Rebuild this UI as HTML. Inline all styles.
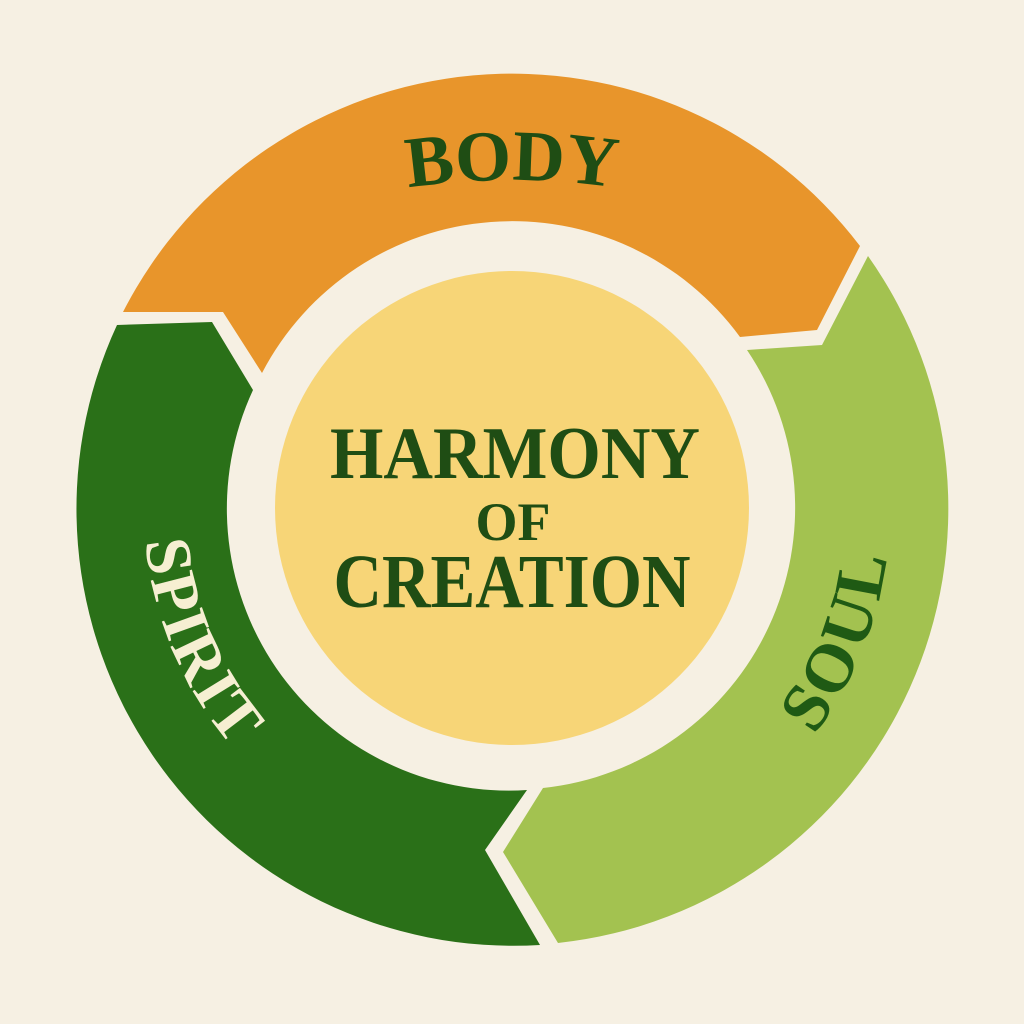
<!DOCTYPE html>
<html><head><meta charset="utf-8"><style>
html,body{margin:0;padding:0;background:#F6F0E3;}
svg{display:block;}
text{font-family:"Liberation Serif",serif;font-weight:bold;}
</style></head><body>
<svg width="1024" height="1024" viewBox="0 0 1024 1024" xmlns="http://www.w3.org/2000/svg">
<rect width="1024" height="1024" fill="#F6F0E3"/>
<defs>
<path id="pBody" d="M 112,305.5 A 700 700 0 0 1 912,305.5"/>
<path id="pSoul" d="M 564.6,882.3 A 378 378 0 0 0 809.9,275.3"/>
<path id="pSpirit" d="M 218.1,286.5 A 368 368 0 0 0 467.2,873.2"/>
</defs>
<path d="M 123,312 A 437 437 0 0 1 860,246 L 817,330 L 740,337 A 282 282 0 0 0 262,373 L 223,312 Z" fill="#E8952B"/>
<path d="M 868,256 A 437 437 0 0 1 558,943 L 503,852 L 543,788 A 282 282 0 0 0 747,350 L 822,345 Z" fill="#A3C250"/>
<path d="M 540,945 A 437 437 0 0 1 117,325 L 212,322 L 253,390 A 282 282 0 0 0 527,790 L 485,850 Z" fill="#2A7018"/>
<circle cx="512" cy="508" r="237" fill="#F7D577"/>
<text font-size="72" fill="#1F4D14"><textPath href="#pBody" startOffset="50%" text-anchor="middle">BODY</textPath></text>
<text font-size="68" fill="#1F5A14" letter-spacing="3"><textPath href="#pSoul" startOffset="50%" text-anchor="middle">SOUL</textPath></text>
<text font-size="65" fill="#F6EFD2" letter-spacing="2"><textPath href="#pSpirit" startOffset="50%" text-anchor="middle">SPIRIT</textPath></text>
<text x="515" y="478" font-size="74" fill="#1F4D14" text-anchor="middle" textLength="370" lengthAdjust="spacingAndGlyphs">HARMONY</text>
<text x="513" y="540" font-size="54" fill="#1F4D14" text-anchor="middle">OF</text>
<text x="512" y="607" font-size="76" fill="#1F4D14" text-anchor="middle" textLength="357" lengthAdjust="spacingAndGlyphs">CREATION</text>
</svg>
</body></html>
